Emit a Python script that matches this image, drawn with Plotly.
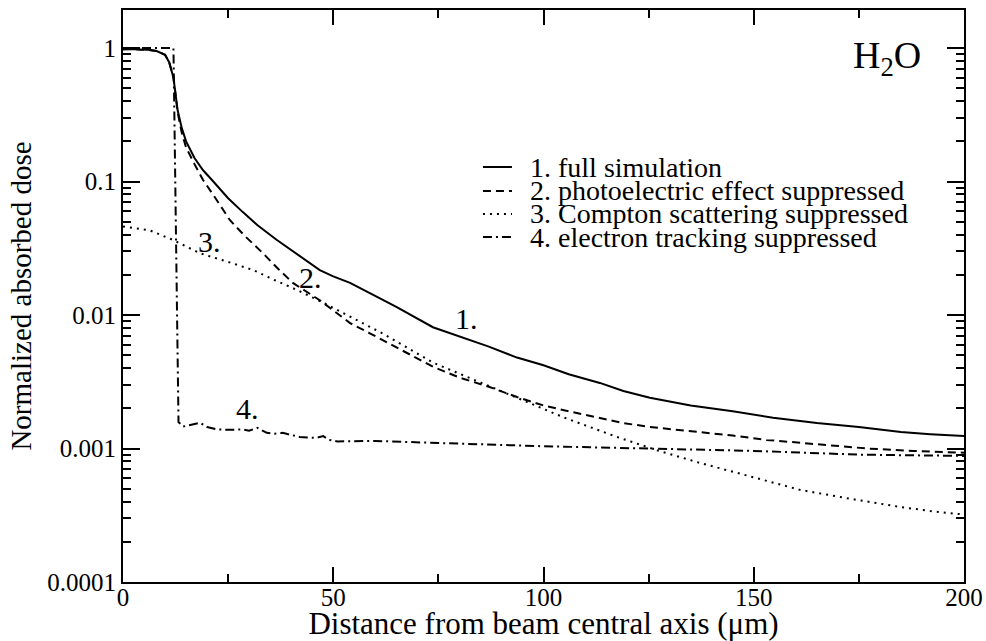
import plotly.graph_objects as go
import math

# ---- data ----
x_full = [0, 2, 4, 6, 8, 10, 11, 12, 12.5, 13, 14, 15, 17, 19, 21, 25, 28.5, 32, 36.6, 41, 46.8, 50, 54, 58.7, 65,
          73.7, 80, 87, 93.7, 100, 106, 113.4, 119, 125.3, 135, 145, 154.6, 165, 175, 185, 192, 200]
y_full = [0.98, 0.985, 0.975, 0.97, 0.95, 0.89, 0.78, 0.6, 0.45, 0.34, 0.25, 0.2, 0.15, 0.122, 0.104, 0.075, 0.059,
          0.047, 0.0365, 0.029, 0.0217, 0.0195, 0.0174, 0.0146, 0.0115, 0.0081, 0.0069, 0.0058, 0.0048, 0.0042,
          0.0036, 0.0031, 0.0027, 0.0024, 0.0021, 0.0019, 0.0017, 0.00155, 0.00145, 0.00133, 0.00128, 0.00124]

x_photo = [0, 2, 4, 6, 8, 10, 11, 12, 12.5, 13, 14, 15, 17, 19, 22, 25.4, 29, 33.3, 37, 40.4, 46.8, 50, 54, 58.7, 65,
           73.7, 80, 87, 93.7, 100, 106, 113.4, 119, 125.3, 135, 145, 153, 165, 177, 188, 200]
y_photo = [0.98, 0.985, 0.975, 0.97, 0.95, 0.89, 0.78, 0.6, 0.45, 0.33, 0.23, 0.18, 0.135, 0.103, 0.075, 0.0515,
           0.039, 0.029, 0.022, 0.0174, 0.0129, 0.0108, 0.0087, 0.0073, 0.0057, 0.0041, 0.0034, 0.0029, 0.00243,
           0.0021, 0.0019, 0.0017, 0.00155, 0.00145, 0.00135, 0.00125, 0.00116, 0.00108, 0.001, 0.00096, 0.00093]

x_compton = [0, 6.4, 11.9, 18.3, 25, 31, 36, 41.4, 48, 54.7, 62, 73.7, 83, 93.7, 105, 117.5, 127, 137.2, 149, 161,
             173, 184.8, 192, 200]
y_compton = [0.046, 0.043, 0.0365, 0.029, 0.025, 0.0217, 0.0183, 0.0154, 0.0122, 0.0095, 0.0072, 0.0044, 0.0033,
             0.0024, 0.0017, 0.00122, 0.00097, 0.00078, 0.00062, 0.00049, 0.00042, 0.000365, 0.00034, 0.00032]

x_electron = [0, 4, 8, 12, 13.2, 14.3, 16, 18.3, 20, 22.4, 25, 28.5, 30, 31.9, 34.2, 36, 38, 40, 42, 44, 46, 47.6,
              49, 51, 60, 75, 90, 100, 112, 125, 137, 150, 162, 175, 187, 200]
y_electron = [1, 1, 1, 1, 0.00158, 0.00146, 0.0015, 0.00156, 0.00145, 0.00139, 0.00138, 0.00139, 0.00136, 0.00143,
              0.00131, 0.00129, 0.00131, 0.00127, 0.00122, 0.00121, 0.0012, 0.00124, 0.00116, 0.00113, 0.00114,
              0.0011, 0.00106, 0.00104, 0.00102, 0.001, 0.00098, 0.00096, 0.00093, 0.0009, 0.00089, 0.00088]

series_names = ["1. full simulation", "2. photoelectric effect suppressed",
                "3. Compton scattering suppressed", "4. electron tracking suppressed"]

x_ticks = [0, 50, 100, 150, 200]
x_minor = [25, 75, 125, 175]
y_ticks = [0.0001, 0.001, 0.01, 0.1, 1]
y_ticktext = ["0.0001", "0.001", "0.01", "0.1", "1"]
y_minor = [m * 10.0 ** e for e in range(-4, 1) for m in range(2, 10)]

curve_labels = [("1.", 81.8, 0.0094), ("2.", 44.5, 0.019), ("3.", 20.5, 0.0355), ("4.", 29.5, 0.0020)]

FONT = "Liberation Serif"
styles = ["solid", "8px,5px", "2px,5px", "9px,4px,2px,4px"]

fig = go.Figure()
for (xs, ys), name, dash in zip([(x_full, y_full), (x_photo, y_photo), (x_compton, y_compton),
                                  (x_electron, y_electron)], series_names, styles):
    fig.add_trace(go.Scatter(x=xs, y=ys, mode="lines", name=name, showlegend=False,
                             line=dict(color="black", width=2, dash=dash)))

for txt, xv, yv in curve_labels:
    fig.add_annotation(x=xv, y=math.log10(yv), text=txt, showarrow=False, xanchor="center", yanchor="middle",
                       font=dict(family=FONT, size=30, color="black"))

# legend (drawn as text + short line samples)
leg_x0, leg_x1, leg_tx = 0.428, 0.4625, 0.482
leg_rows = [0.7255, 0.6836, 0.6434, 0.6031]
for name, dash, yy in zip(series_names, styles, leg_rows):
    fig.add_shape(type="line", xref="paper", yref="paper", x0=leg_x0, x1=leg_x1, y0=yy, y1=yy,
                  line=dict(color="black", width=2, dash=dash))
    fig.add_annotation(x=leg_tx, y=yy, xref="paper", yref="paper", text=name, showarrow=False,
                       xanchor="left", yanchor="middle", font=dict(family=FONT, size=28, color="black"))

fig.add_annotation(x=0.909, y=0.916, xref="paper", yref="paper", text="H<sub>2</sub>O", showarrow=False,
                   xanchor="center", yanchor="middle",
                   font=dict(family=FONT, size=38, color="black"))

axis_common = dict(showline=True, linecolor="black", linewidth=2, mirror="ticks", ticks="inside",
                   tickcolor="black", tickwidth=2, showgrid=False, zeroline=False, automargin=False,
                   tickfont=dict(family=FONT, size=25, color="black"))

fig.update_xaxes(range=[0, 200], tickvals=x_ticks, ticklen=15, ticklabelstandoff=-8,
                 minor=dict(tickvals=x_minor, ticks="inside", ticklen=8, tickcolor="black", tickwidth=2,
                            showgrid=False),
                 title=dict(text="Distance from beam central axis (μm)",
                            font=dict(family=FONT, size=31, color="black"), standoff=3),
                 **axis_common)
fig.update_yaxes(type="log", range=[-4, 0.285], tickvals=y_ticks, ticktext=y_ticktext, ticklen=17,
                 minor=dict(tickvals=y_minor, ticks="inside", ticklen=8, tickcolor="black", tickwidth=2,
                            showgrid=False),
                 title=dict(text="Normalized absorbed dose",
                            font=dict(family=FONT, size=29, color="black"), standoff=7),
                 **axis_common)

fig.update_layout(
    width=986, height=641,
    margin=dict(l=123, r=22, t=10, b=59),
    plot_bgcolor="white", paper_bgcolor="white",
    showlegend=False,
    font=dict(family=FONT, color="black"),
)

fig.write_html("out.html", config={"displayModeBar": False},
               post_script="document.body.style.margin='0px';")
